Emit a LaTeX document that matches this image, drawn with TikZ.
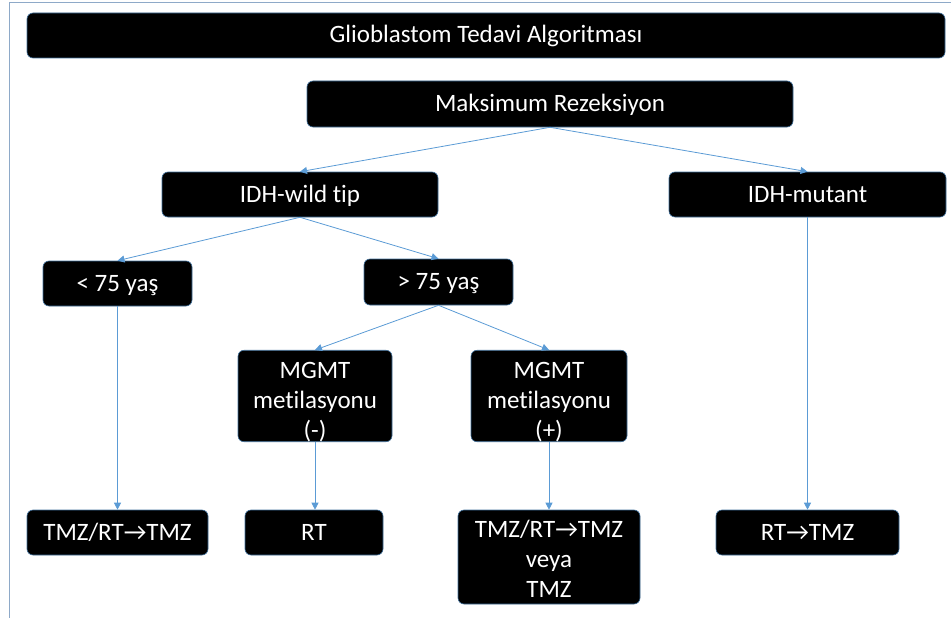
\documentclass[tikz,border=0pt]{standalone}
\usepackage{fontspec}
\setmainfont[Ligatures={NoCommon}]{Carlito}
\usetikzlibrary{arrows.meta}
\definecolor{arrblue}{HTML}{5B9BD5}
\definecolor{edgeblue}{HTML}{41719C}
\definecolor{frameblue}{HTML}{8EA9C8}
\tikzset{
  box/.style={draw=edgeblue, line width=0.6pt, fill=black, rounded corners=6pt,
    text=white, align=center, inner sep=0pt, font=\fontsize{25}{30}\selectfont,
    text height=17pt, text depth=2pt},
  multiline/.style={text height={}, text depth={}},
  conn/.style={draw=arrblue, line width=0.8pt, -{Triangle[length=7pt,width=7pt]}}
}
\begin{document}
\begin{tikzpicture}[x=1pt,y=-1pt]
\useasboundingbox (0,0) rectangle (951,618);
\draw[frameblue, line width=1pt] (951,3) -- (9,3) -- (9,618);
\node[box, minimum width=918pt, minimum height=45pt] (title) at (486,35.5) {Glioblastom Tedavi Algoritması};
\node[box, minimum width=486pt, minimum height=46pt] (max) at (550,104) {Maksimum Rezeksiyon};
\node[box, minimum width=276pt, minimum height=45pt] (wild) at (300,194.5) {IDH-wild tip};
\node[box, minimum width=277pt, minimum height=45pt] (mut) at (807.5,194.5) {IDH-mutant};
\node[box, minimum width=149pt, minimum height=45pt] (lt) at (117.5,283.5) {< 75 yaş};
\node[box, minimum width=149pt, minimum height=46pt] (gt) at (438.5,282) {> 75 yaş};
\node[box, multiline, minimum width=154pt, minimum height=88pt] (mneg) at (315,396) {\rule{0pt}{28pt}MGMT\\metilasyonu\\(-)};
\node[box, multiline, minimum width=156pt, minimum height=88pt] (mpos) at (549,396) {\rule{0pt}{28pt}MGMT\\metilasyonu\\(+)};
\node[box, minimum width=181pt, minimum height=45pt] (r1) at (117.5,532.5) {TMZ/RT→TMZ};
\node[box, minimum width=138pt, minimum height=45pt] (r2) at (314,532.5) {RT};
\node[box, multiline, minimum width=182pt, minimum height=94pt] (r3) at (549,557) {\rule{0pt}{21pt}TMZ/RT→TMZ\\veya\\TMZ};
\node[box, minimum width=183pt, minimum height=45pt] (r4) at (807.5,532.5) {RT→TMZ};
\draw[conn] (max.south) -- (wild.north);
\draw[conn] (max.south) -- (mut.north);
\draw[conn] (wild.south) -- (lt.north);
\draw[conn] (wild.south) -- (gt.north);
\draw[conn] (gt.south) -- (mneg.north);
\draw[conn] (gt.south) -- (mpos.north);
\draw[conn] (lt.south) -- (r1.north);
\draw[conn] (mneg.south) -- (mneg.south |- r2.north);
\draw[conn] (mpos.south) -- (r3.north);
\draw[conn] (mut.south) -- (r4.north);
\end{tikzpicture}
\end{document}
